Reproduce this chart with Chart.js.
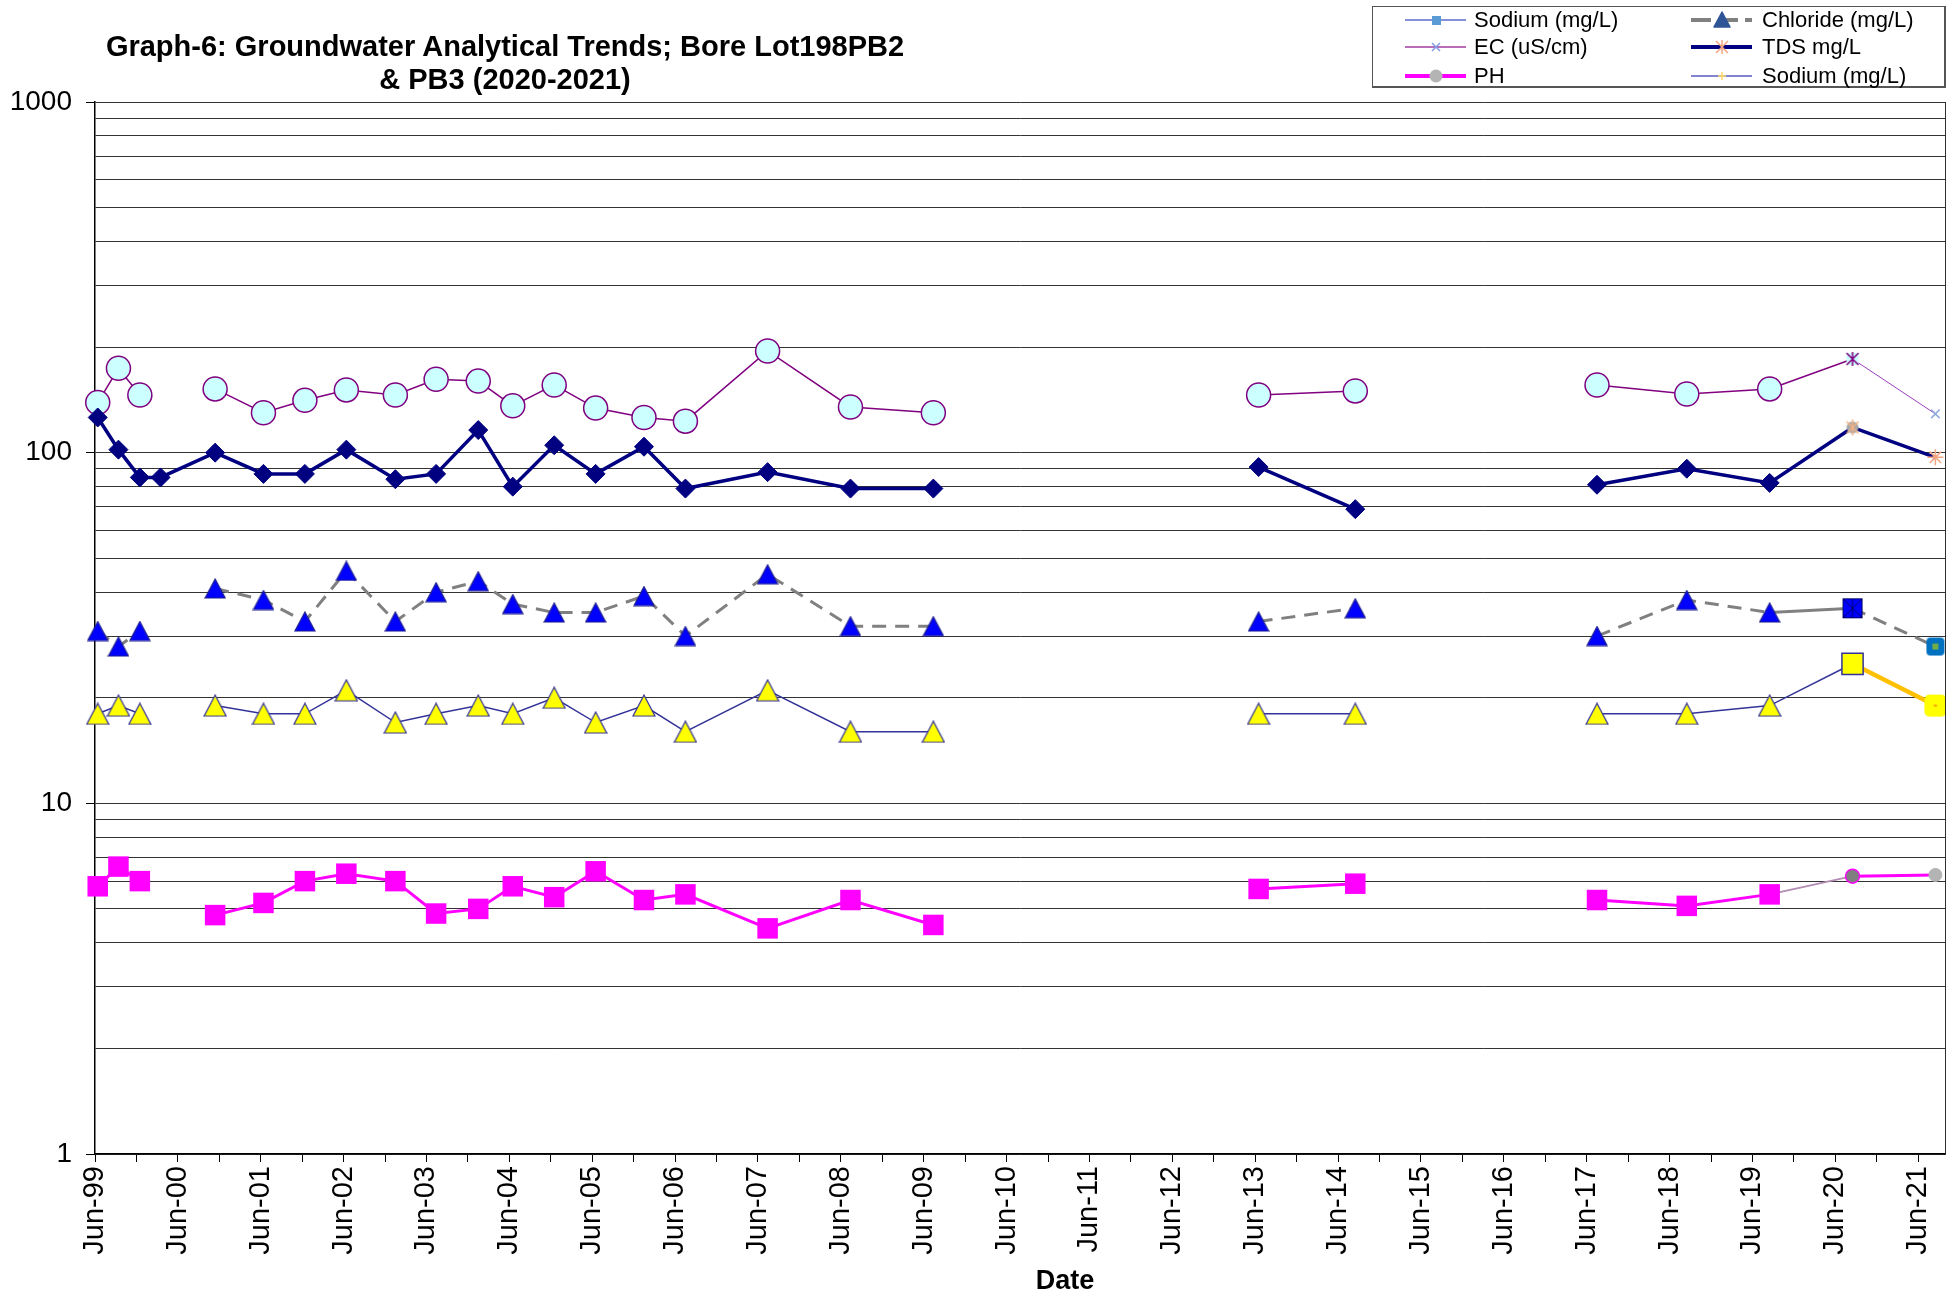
<!DOCTYPE html>
<html>
<head>
<meta charset="utf-8">
<script src="https://cdn.jsdelivr.net/npm/chart.js@4.4.1/dist/chart.umd.min.js"></script>
<style>
  html, body { margin: 0; background: #fff; overflow: hidden; font-family: "Liberation Sans", Arial, sans-serif; }
  #wrap { position: relative; width: 1946px; height: 1297px; overflow: hidden; }
  canvas { display: block; }
  #title { position: absolute; left: 55px; width: 900px; top: 30px; text-align: center;
           font-weight: bold; font-size: 29px; line-height: 33px; color: #000; }
  #xtitle { position: absolute; left: 965px; width: 200px; top: 1265px; text-align: center;
            font-weight: bold; font-size: 27px; line-height: 30px; }
  #legend { position: absolute; left: 1372px; top: 6px; width: 574px; height: 82px;
            box-sizing: border-box; border: 1px solid #555; border-right-width: 2px; border-bottom-width: 2px; }
  .sw { position: absolute; width: 72px; height: 24px; }
  .lt { position: absolute; font-size: 22px; line-height: 24px; white-space: nowrap; color: #000; }
</style>
</head>
<body>
<div id="wrap">
  <!-- canvas a bit wider than the page: Chart.js keeps ~12px right of the plot for the last x label -->
  <canvas id="chart" width="1957" height="1297"></canvas>
  <div id="title">Graph-6: Groundwater Analytical Trends; Bore Lot198PB2<br>&amp; PB3 (2020-2021)</div>
  <div id="xtitle">Date</div>
  <div id="legend"></div>
  <!-- legend samples, page coordinates -->
  <svg class="sw" style="left:1400px;top:8px"><line x1="5" y1="12" x2="66" y2="12" stroke="#5b6bcb" stroke-width="1.5"/><rect x="32" y="8" width="9" height="9" fill="#5b9bd5"/></svg>
  <div class="lt" style="left:1474px;top:8px">Sodium (mg/L)</div>
  <svg class="sw" style="left:1400px;top:35px"><line x1="5" y1="12" x2="66" y2="12" stroke="#a03aa0" stroke-width="1.5"/><path d="M32 8 L40 16 M40 8 L32 16" stroke="#7f9fe0" stroke-width="1.5"/></svg>
  <div class="lt" style="left:1474px;top:35px">EC (uS/cm)</div>
  <svg class="sw" style="left:1400px;top:64px"><line x1="5" y1="12" x2="66" y2="12" stroke="#ff00ff" stroke-width="4"/><circle cx="36" cy="12" r="6.5" fill="#b4b4b4"/></svg>
  <div class="lt" style="left:1474px;top:64px">PH</div>
  <svg class="sw" style="left:1686px;top:8px"><line x1="5" y1="12" x2="66" y2="12" stroke="#808080" stroke-width="4" stroke-dasharray="20 7"/><path d="M36 4 L44 19 L28 19 Z" fill="#2f5597" stroke="#2f5597" stroke-linejoin="round" stroke-width="1.5"/></svg>
  <div class="lt" style="left:1762px;top:8px">Chloride (mg/L)</div>
  <svg class="sw" style="left:1686px;top:35px"><line x1="5" y1="12" x2="66" y2="12" stroke="#000080" stroke-width="4"/><path d="M30 6 L42 18 M42 6 L30 18 M36 5 L36 19" stroke="#f4a582" stroke-width="1.5"/></svg>
  <div class="lt" style="left:1762px;top:35px">TDS mg/L</div>
  <svg class="sw" style="left:1686px;top:64px"><line x1="5" y1="12" x2="66" y2="12" stroke="#5a5abf" stroke-width="1.5"/><path d="M36 8 L36 16 M32 12 L40 12" stroke="#ffd966" stroke-width="1.5"/></svg>
  <div class="lt" style="left:1762px;top:64px">Sodium (mg/L)</div>
</div>
<script>
// sampling dates (rows with all nulls are dates without samples, they break the lines)
const dates = ['1999-06-13', '1999-09-13', '1999-12-16', '2000-03-16', '2000-11-13', '2001-06-13',
  '2001-12-13', '2002-06-13', '2003-01-16', '2003-07-13', '2004-01-16', '2004-06-16', '2004-12-16',
  '2005-06-16', '2006-01-16', '2006-07-16', '2007-07-13', '2008-07-13', '2009-07-13', '2011-06-01',
  '2013-06-16', '2014-08-16', '2016-01-01', '2017-07-16', '2018-08-16', '2019-08-16', '2020-08-16',
  '2021-08-16'];

const ec = [139, 174, 146, null, 152, 130, 141, 151, 146, 162, 160, 136, 156, 134, 126, 123, 195, 135,
  130, null, 146, 150, null, 156, 147, 152, 185, 129];
const tds = [126, 102, 85, 85, 100, 87, 87, 102, 84, 87, 116, 80, 105, 87, 104, 79, 88, 79, 79, null,
  91, 69, null, 81, 90, 82, 118, 97];
const chloride = [31, 28, 31, null, 41, 38, 33, 46, 33, 40, 43, 37, 35, 35, 39, 30, 45, 32, 32, null,
  33, 36, null, 30, 38, 35, 36, 28];
const sodium = [18, 19, 18, null, 19, 18, 18, 21, 17, 18, 19, 18, 20, 17, 19, 16, 21, 16, 16, null,
  18, 18, null, 18, 18, 19, 25, 19];
const ph = [5.8, 6.6, 6.0, null, 4.8, 5.2, 6.0, 6.3, 6.0, 4.85, 5.0, 5.8, 5.4, 6.4, 5.3, 5.5, 4.4, 5.3,
  4.5, null, 5.7, 5.9, null, 5.3, 5.1, 5.5, 6.2, 6.25];

// axis
const firstYear = 1999;
const lastYear = 2021;
const yGridValues = [1, 2, 3, 4, 5, 6, 7, 8, 9, 10, 20, 30, 40, 50, 60, 70, 80, 90,
  100, 200, 300, 400, 500, 600, 700, 800, 900, 1000];
const yLabelValues = [1, 10, 100, 1000];

function toYear(s) {
  const [y, m, d] = s.split('-').map(Number);
  return y + (m - 1) / 12 + (d - 1) / 365;
}
const JUN = 5 / 12;
const xMin = firstYear + JUN;
const xMax = lastYear + 9 / 12;
const xTicks = [];
for (let y = firstYear; y <= lastYear; y++) {
  xTicks.push(y + JUN);
  if (y + 11 / 12 <= xMax) xTicks.push(y + 11 / 12);
}

const pts = vals => dates.map((d, i) => ({ x: toYear(d), y: vals[i] }));
const n = dates.length;
const L = n - 1, P = n - 2, Q = n - 3;

// per-point style helper: base value, with overrides for the last two points
function per(base, prev, last) {
  const a = new Array(n).fill(base);
  a[P] = prev; a[L] = last;
  return a;
}

// small markers drawn on their own canvas (centred on the point)
function mk(w, h, draw) {
  const c = document.createElement('canvas');
  c.width = w; c.height = h;
  draw(c.getContext('2d'), w / 2, h / 2);
  return c;
}
function tri(w, h, fill, stroke) {
  return mk(w + 2, h + 2, g => {
    g.fillStyle = fill; g.strokeStyle = stroke; g.lineWidth = 1.2; g.lineJoin = 'miter';
    g.beginPath(); g.moveTo(1 + w / 2, 1); g.lineTo(1 + w, 1 + h); g.lineTo(1, 1 + h); g.closePath();
    g.fill(); g.stroke();
  });
}
const clTri = tri(20, 19, '#0000ff', '#1f1f8f');
const naTri = tri(22, 21, '#ffff00', '#333399');
const ecMark20 = mk(16, 16, (g, c) => {
  g.fillStyle = '#ccffff'; g.fillRect(2, 2, 12, 12);
  g.strokeStyle = '#800080'; g.lineWidth = 1.5;
  g.beginPath(); g.moveTo(2, 2); g.lineTo(14, 14); g.moveTo(14, 2); g.lineTo(2, 14);
  g.moveTo(c, 1); g.lineTo(c, 15); g.stroke();
});
const tdsMark20 = mk(18, 18, (g, c) => {
  g.fillStyle = '#a6a6a6'; g.beginPath(); g.arc(c, c, 6, 0, Math.PI * 2); g.fill();
  g.strokeStyle = '#f4b183'; g.lineWidth = 1.5;
  g.beginPath(); g.moveTo(3, 3); g.lineTo(15, 15); g.moveTo(15, 3); g.lineTo(3, 15);
  g.moveTo(c, 1); g.lineTo(c, 17); g.stroke();
});
const clMark20 = mk(22, 22, (g, c) => {
  g.fillStyle = '#0000ff'; g.fillRect(1, 1, 20, 20);
  g.strokeStyle = '#000066'; g.lineWidth = 1;
  g.strokeRect(1.5, 1.5, 19, 19);
  g.beginPath(); g.moveTo(2, 2); g.lineTo(20, 20); g.moveTo(20, 2); g.lineTo(2, 20);
  g.moveTo(c, 2); g.lineTo(c, 20); g.stroke();
});
const clMark21 = mk(20, 20, (g, c) => {
  g.fillStyle = '#0070c0'; g.beginPath(); g.roundRect(1, 1, 18, 18, 4); g.fill();
  g.fillStyle = '#70ad47'; g.fillRect(c - 3, c - 3, 6, 6);
});
const naMark21 = mk(24, 24, (g, c) => {
  g.fillStyle = '#ffff00'; g.beginPath(); g.roundRect(1, 1, 22, 22, 5); g.fill();
  g.fillStyle = '#ff9900'; g.fillRect(c - 1.5, c - 1, 3, 2);
});

const datasets = [
  {
    label: 'TDS mg/L', data: pts(tds),
    borderColor: '#000080', borderWidth: 3.5,
    pointStyle: per('rectRot', tdsMark20, 'star'),
    pointRadius: per(9.5, 8, 8),
    pointBackgroundColor: per('#000080', '#a6a6a6', '#f4a582'),
    pointBorderColor: per('#000080', '#f4b183', '#f4a582'),
    pointBorderWidth: per(1, 1.5, 1.5)
  },
  {
    label: 'EC (uS/cm)', data: pts(ec),
    borderColor: '#800080', borderWidth: 1.5,
    segment: { borderWidth: s => s.p0DataIndex === P ? 1 : 1.5,
               borderColor: s => s.p0DataIndex === P ? '#9a3fbf' : '#800080' },
    pointStyle: per('circle', ecMark20, 'crossRot'),
    pointRadius: per(12, 8, 6),
    pointBackgroundColor: per('#ccffff', '#ccffff', '#8faadc'),
    pointBorderColor: per('#800080', '#800080', '#8faadc'),
    pointBorderWidth: per(1.5, 1.5, 1.5)
  },
  {
    label: 'Chloride (mg/L)', data: pts(chloride),
    borderColor: '#808080', borderWidth: 3, borderDash: [14, 9],
    segment: { borderDash: s => s.p0DataIndex === Q ? [] : [14, 9] },
    pointStyle: per(clTri, clMark20, clMark21),
    pointRadius: 11
  },
  {
    label: 'Sodium (mg/L)', data: pts(sodium),
    borderColor: '#333399', borderWidth: 1.5,
    segment: { borderWidth: s => s.p0DataIndex === P ? 4.5 : 1.5,
               borderColor: s => s.p0DataIndex === P ? '#ffc000' : '#333399' },
    pointStyle: per(naTri, 'rect', naMark21),
    pointRadius: per(12, 15, 12),
    pointBackgroundColor: '#ffff00',
    pointBorderColor: '#333399',
    pointBorderWidth: 1.5
  },
  {
    label: 'PH', data: pts(ph),
    borderColor: '#ff00ff', borderWidth: 3,
    segment: { borderWidth: s => s.p0DataIndex === Q ? 2 : 3,
               borderColor: s => s.p0DataIndex === Q ? '#b48cb4' : '#ff00ff' },
    pointStyle: per('rect', 'circle', 'circle'),
    pointRadius: per(14.5, 7, 6.5),
    pointBackgroundColor: per('#ff00ff', '#7f7f7f', '#b4b4b4'),
    pointBorderColor: per('#ff00ff', '#ff00ff', '#b4b4b4'),
    pointBorderWidth: per(0, 1.5, 1)
  }
];
datasets.forEach(d => { d.fill = false; d.tension = 0; d.spanGaps = false; d.clip = false; });

const frame = {
  id: 'frame',
  afterDraw(chart) {
    const a = chart.chartArea, g = chart.ctx;
    g.save();
    g.strokeStyle = '#222';
    g.lineWidth = 1.5;
    g.beginPath();
    g.moveTo(a.right, a.top);
    g.lineTo(a.right, a.bottom);
    g.stroke();
    g.restore();
  }
};

const tickFont = { family: '"Liberation Sans", Arial, sans-serif', size: 28 };

new Chart(document.getElementById('chart').getContext('2d'), {
  type: 'line',
  data: { datasets: datasets },
  options: {
    responsive: false,
    animation: false,
    events: [],
    layout: { autoPadding: false, padding: { top: 102, right: 1, left: 0, bottom: 0 } },
    plugins: { legend: { display: false }, title: { display: false }, tooltip: { enabled: false } },
    scales: {
      x: {
        type: 'linear', min: xMin, max: xMax,
        afterBuildTicks: s => { s.ticks = xTicks.map(v => ({ value: v })); },
        afterFit: s => { s.height = 143; },
        ticks: {
          autoSkip: false, minRotation: 90, maxRotation: 90, padding: 4, color: '#000',
          font: { family: tickFont.family, size: 29 },
          callback: v => {
            const y = Math.round(v - JUN);
            return Math.abs(v - (y + JUN)) < 0.01 ? 'Jun-' + String(y % 100).padStart(2, '0') : '';
          }
        },
        grid: { drawOnChartArea: false, drawTicks: true, tickLength: 8, tickColor: '#000', lineWidth: 1 },
        border: { color: '#000', width: 1.5 }
      },
      y: {
        type: 'logarithmic', min: 1, max: 1000,
        afterBuildTicks: s => { s.ticks = yGridValues.map(v => ({ value: v })); },
        afterFit: s => { s.width = 95; },
        ticks: {
          autoSkip: false, padding: 14, color: '#000', font: tickFont,
          callback: v => yLabelValues.includes(v) ? String(v) : ''
        },
        grid: {
          color: '#333', lineWidth: 1, tickLength: 9,
          tickColor: c => (c.tick && yLabelValues.includes(c.tick.value)) ? '#000' : 'rgba(0,0,0,0)'
        },
        border: { color: '#000', width: 1.5 }
      }
    }
  },
  plugins: [frame]
});
</script>
</body>
</html>
